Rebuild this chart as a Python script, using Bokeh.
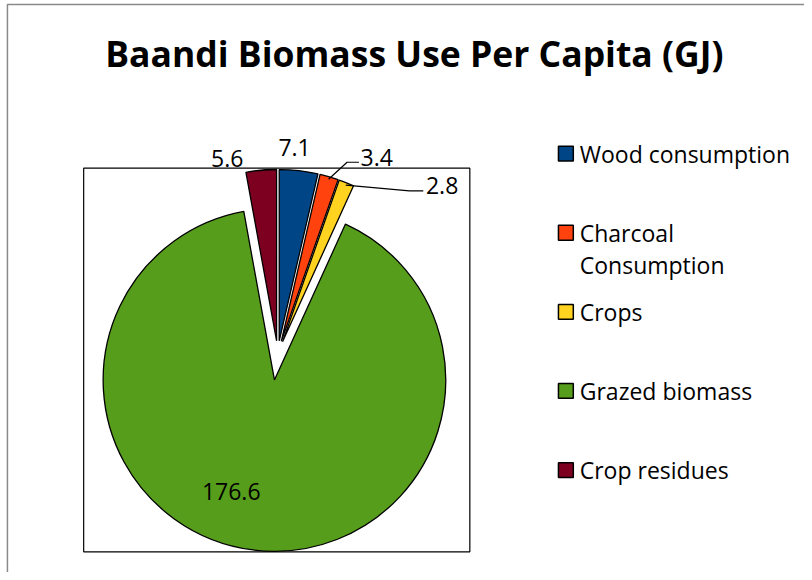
import math
from bokeh.plotting import figure
from bokeh.models import Range1d, ColumnDataSource
from bokeh.core.properties import value
from bokeh.embed import file_html
from bokeh.resources import INLINE

# ---------------- data ----------------
title = "Baandi Biomass Use Per Capita (GJ)"
categories = ["Wood consumption", "Charcoal Consumption", "Crops", "Grazed biomass", "Crop residues"]
values = [7.1, 3.4, 2.8, 176.6, 5.6]
value_labels = ["7.1", "3.4", "2.8", "176.6", "5.6"]
legend_labels = ["Wood consumption", "Charcoal\nConsumption", "Crops", "Grazed biomass", "Crop residues"]
colors = ["#004586", "#ff420e", "#ffd320", "#579d1c", "#7e0021"]

# ---------------- layout (reference pixel coordinates) ----------------
W, H = 804, 572
RW, RH = 812, 580
def Y(py):
    return RH - py

FONT = "Open Sans"
CX, CY, R = 280, 358, 173
explode = [13, 13, 13, 27, 13]
label_pos = [(297, 157), (380, 166.5), (446, 195), (233, 505), (229, 168)]
leaders = {1: [(350, 164), (362, 164)], 2: [(413, 193), (427, 193)]}
SHIFT_SMALL, SHIFT_BIG = -7.5, -11.5

p = figure(width=W, height=H, x_range=Range1d(0, RW), y_range=Range1d(0, RH),
           output_backend="svg", toolbar_location=None,
           x_axis_location=None, y_axis_location=None, min_border=0,
           background_fill_color="white", border_fill_color="white")
p.outline_line_color = None
p.xgrid.visible = False
p.ygrid.visible = False

# outer chart border (top and left visible)
p.line(x=[7, 7, RW], y=[0, Y(4), Y(4)], line_color="#8a8a8a", line_width=1.5)

# plot area box
p.quad(left=[84], right=[474], top=[Y(170)], bottom=[Y(559)],
       fill_color="white", line_color="black", line_width=1.2)

# pie wedges
total = sum(values)
xs, ys, sa, ea, mids = [], [], [], [], []
cum = 0.0
for v, e in zip(values, explode):
    t1 = cum / total * 360.0
    cum += v
    t2 = cum / total * 360.0
    mid = math.radians((t1 + t2) / 2)
    mids.append(mid)
    xs.append(CX + e * math.sin(mid))
    ys.append(Y(CY) + e * math.cos(mid))
    sa.append(math.radians(90 - t2))
    ea.append(math.radians(90 - t1))

src = ColumnDataSource(dict(x=xs, y=ys, sa=sa, ea=ea, color=colors, name=categories, val=values))
p.wedge(x="x", y="y", radius=R, start_angle="sa", end_angle="ea", direction="anticlock",
        fill_color="color", line_color="black", line_width=1.3, source=src)

# leader lines
for i, pts in leaders.items():
    d = R + explode[i] - 2
    sx = CX + d * math.sin(mids[i])
    sy = Y(CY) + d * math.cos(mids[i])
    p.line(x=[sx] + [q[0] for q in pts], y=[sy] + [Y(q[1]) for q in pts],
           line_color="black", line_width=1.2)

# data labels
p.text(x=[q[0] for q in label_pos], y=[Y(q[1]) for q in label_pos], text=value_labels,
       text_align="center", text_baseline="alphabetic", text_font=value(FONT),
       text_font_size="23px", text_color="black", y_offset=SHIFT_SMALL)

# title
p.text(x=[418], y=[Y(65)], text=[title], text_align="center", text_baseline="alphabetic",
       text_font=value(FONT), text_font_style="bold", text_font_size="35.5px",
       text_color="black", y_offset=SHIFT_BIG)

# legend
LEG_X, LEG_Y0, LEG_STEP, LINE_H = 571, 163.3, 80.2, 32
tx, ty, tt = [], [], []
for i, lab in enumerate(legend_labels):
    base = LEG_Y0 + i * LEG_STEP
    p.rect(x=[LEG_X], y=[Y(base - 8)], width=15, height=15, fill_color=colors[i],
           line_color="black", line_width=1.5)
    for j, line in enumerate(lab.split("\n")):
        tx.append(LEG_X + 14)
        ty.append(Y(base + j * LINE_H))
        tt.append(line)
p.text(x=tx, y=ty, text=tt, text_align="left", text_baseline="alphabetic",
       text_font=value(FONT), text_font_size="23px", text_color="black", y_offset=SHIFT_SMALL)

open("out.html", "w").write(file_html(p, INLINE))
